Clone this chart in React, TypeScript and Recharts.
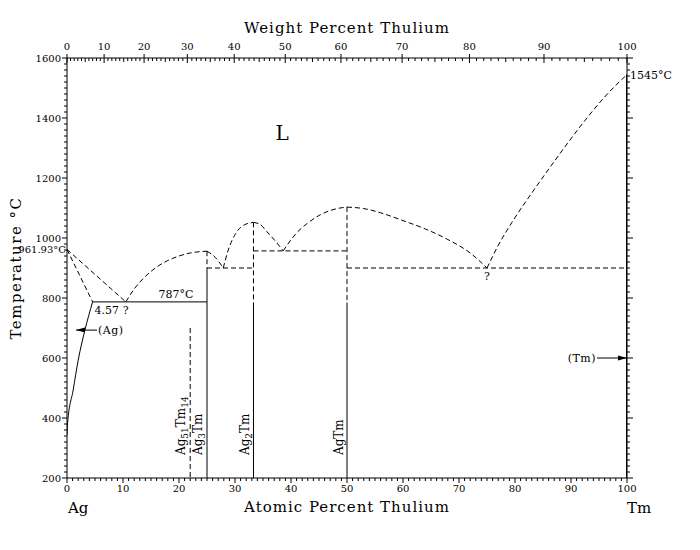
import React from "react";
import { LineChart, Line, XAxis, YAxis, ReferenceDot } from "recharts";

type Pt = { x: number; t: number };

// atomic masses, used only to place the weight-percent ticks on the top axis
const AG_MASS = 107.87;
const TM_MASS = 168.93;

const atomicLabels = [0, 10, 20, 30, 40, 50, 60, 70, 80, 90, 100];
const weightLabels = [0, 10, 20, 30, 40, 50, 60, 70, 80, 90, 100];
const tempLabels = [200, 400, 600, 800, 1000, 1200, 1400, 1600];

// liquidus / solidus pieces (at.% Tm, °C)
const liqAg: Pt[] = [
  { x: 0, t: 961.93 },
  { x: 10.5, t: 787 },
];
const solAg: Pt[] = [
  { x: 0, t: 961.93 },
  { x: 4.57, t: 787 },
];
const liqAg3Tm: Pt[] = [
  { x: 10.5, t: 787 },
  { x: 12, t: 830 },
  { x: 14, t: 872 },
  { x: 16, t: 903 },
  { x: 18, t: 925 },
  { x: 20, t: 940 },
  { x: 22, t: 950 },
  { x: 25, t: 956 },
];
const liqDip1: Pt[] = [
  { x: 25, t: 956 },
  { x: 26.5, t: 935 },
  { x: 27.9, t: 900 },
];
const liqAg2Tm: Pt[] = [
  { x: 27.9, t: 900 },
  { x: 28.8, t: 960 },
  { x: 30.3, t: 1020 },
  { x: 31.8, t: 1045 },
  { x: 33.3, t: 1052 },
];
const liqDip2: Pt[] = [
  { x: 33.3, t: 1052 },
  { x: 34.5, t: 1045 },
  { x: 35.7, t: 1021 },
  { x: 37.2, t: 990 },
  { x: 38.6, t: 957 },
];
const liqAgTm: Pt[] = [
  { x: 38.6, t: 957 },
  { x: 41, t: 1017 },
  { x: 43, t: 1050 },
  { x: 45.2, t: 1077 },
  { x: 48.2, t: 1098 },
  { x: 50, t: 1103 },
];
const liqDip3: Pt[] = [
  { x: 50, t: 1103 },
  { x: 53, t: 1098 },
  { x: 56, t: 1084 },
  { x: 60, t: 1058 },
  { x: 64, t: 1030 },
  { x: 68, t: 995 },
  { x: 72, t: 950 },
  { x: 75, t: 900 },
];
const liqTm: Pt[] = [
  { x: 75, t: 900 },
  { x: 77, t: 975 },
  { x: 80, t: 1068 },
  { x: 83, t: 1150 },
  { x: 87, t: 1255 },
  { x: 92, t: 1380 },
  { x: 96, t: 1470 },
  { x: 100, t: 1545 },
];

// dashed verticals and horizontals
const ag51Tm14Dash: Pt[] = [
  { x: 22, t: 700 },
  { x: 22, t: 200 },
];
const ag3TmDash: Pt[] = [
  { x: 25, t: 956 },
  { x: 25, t: 900 },
];
const ag2TmDash: Pt[] = [
  { x: 33.3, t: 1052 },
  { x: 33.3, t: 785 },
];
const agTmDash: Pt[] = [
  { x: 50, t: 1103 },
  { x: 50, t: 785 },
];
const h900a: Pt[] = [
  { x: 25, t: 900 },
  { x: 33.3, t: 900 },
];
const h957: Pt[] = [
  { x: 33.3, t: 957 },
  { x: 50, t: 957 },
];
const h900b: Pt[] = [
  { x: 50, t: 900 },
  { x: 100, t: 900 },
];

// solid lines
const eutectic787: Pt[] = [
  { x: 4.57, t: 787 },
  { x: 25, t: 787 },
];
const solvusAg: Pt[] = [
  { x: 0, t: 343 },
  { x: 0.1, t: 383 },
  { x: 1.1, t: 493 },
  { x: 2, t: 593 },
  { x: 3.2, t: 693 },
  { x: 4.57, t: 787 },
];
const ag3TmSolid: Pt[] = [
  { x: 25, t: 900 },
  { x: 25, t: 200 },
];
const ag2TmSolid: Pt[] = [
  { x: 33.3, t: 785 },
  { x: 33.3, t: 200 },
];
const agTmSolid: Pt[] = [
  { x: 50, t: 785 },
  { x: 50, t: 200 },
];
const tmSolid: Pt[] = [
  { x: 100, t: 1545 },
  { x: 100, t: 200 },
];

const dashed = [
  { d: liqAg, curve: false },
  { d: solAg, curve: false },
  { d: liqAg3Tm, curve: true },
  { d: liqDip1, curve: true },
  { d: liqAg2Tm, curve: true },
  { d: liqDip2, curve: true },
  { d: liqAgTm, curve: true },
  { d: liqDip3, curve: true },
  { d: liqTm, curve: true },
  { d: ag51Tm14Dash, curve: false },
  { d: ag3TmDash, curve: false },
  { d: ag2TmDash, curve: false },
  { d: agTmDash, curve: false },
  { d: h900a, curve: false },
  { d: h957, curve: false },
  { d: h900b, curve: false },
];
const solid = [
  { d: eutectic787, w: 1, curve: false },
  { d: solvusAg, w: 1, curve: true },
  { d: ag3TmSolid, w: 1, curve: false },
  { d: ag2TmSolid, w: 1, curve: false },
  { d: agTmSolid, w: 1, curve: false },
  { d: tmSolid, w: 2, curve: false },
];

const SERIF = "'DejaVu Serif', 'Liberation Serif', serif";

const wtToAt = (w: number) => {
  const a = w / TM_MASS;
  const b = (100 - w) / AG_MASS;
  return (a / (a + b)) * 100;
};
const atToWt = (x: number) => {
  const a = x * TM_MASS;
  const b = (100 - x) * AG_MASS;
  return (a / (a + b)) * 100;
};

const bottomTicks = Array.from({ length: 101 }, (_, i) => i);
const topTicks = Array.from({ length: 101 }, (_, i) => wtToAt(i));
const tempTicks = Array.from({ length: 71 }, (_, i) => 200 + i * 20);

const BottomTick = (p: any) => {
  const v = Math.round(p.payload.value);
  const major = atomicLabels.includes(v);
  return (
    <g>
      <line x1={p.x} x2={p.x} y1={p.y} y2={p.y + (major ? 5 : 3)} stroke="#000" />
      {major && (
        <text x={p.x} y={p.y + 14} textAnchor="middle" fontSize={10} fontFamily={SERIF}>
          {v}
        </text>
      )}
      {v === 0 && (
        <text x={p.x + 1} y={p.y + 35} fontSize={15} fontFamily={SERIF}>
          Ag
        </text>
      )}
      {v === 100 && (
        <text x={p.x} y={p.y + 35} fontSize={15} fontFamily={SERIF}>
          Tm
        </text>
      )}
    </g>
  );
};

const TopTick = (p: any) => {
  const w = Math.round(atToWt(p.payload.value));
  const major = weightLabels.includes(w);
  const mid = w % 5 === 0;
  return (
    <g>
      <line
        x1={p.x}
        x2={p.x}
        y1={major ? p.y - 4 : p.y}
        y2={p.y + (major ? 5 : mid ? 4 : 3)}
        stroke="#000"
      />
      {major && (
        <text x={p.x} y={p.y - 8} textAnchor="middle" fontSize={10} fontFamily={SERIF}>
          {w}
        </text>
      )}
    </g>
  );
};

const LeftTick = (p: any) => {
  const v = Math.round(p.payload.value);
  const major = tempLabels.includes(v);
  return (
    <g>
      <line x1={p.x} x2={p.x - (major ? 5 : 3)} y1={p.y} y2={p.y} stroke="#000" />
      {major && (
        <text x={p.x - 6} y={p.y + 4} textAnchor="end" fontSize={10} fontFamily={SERIF}>
          {v}
        </text>
      )}
    </g>
  );
};

const RightTick = (p: any) => {
  const v = Math.round(p.payload.value);
  const major = tempLabels.includes(v);
  return <line x1={p.x} x2={p.x + (major ? 6 : 3)} y1={p.y} y2={p.y} stroke="#000" />;
};

const note =
  (text: string, dx: number, dy: number, size = 11, anchor = "start", spacing = 0) =>
  (p: any) =>
    (
      <text
        x={p.cx + dx}
        y={p.cy + dy}
        textAnchor={anchor}
        fontSize={size}
        letterSpacing={spacing}
        fontFamily={SERIF}
      >
        {text}
      </text>
    );

const vertical =
  (parts: { s: string; sub?: boolean }[], dx: number, dy: number) => (p: any) => {
    const x = p.cx + dx;
    const y = p.cy + dy;
    return (
      <text x={x} y={y} transform={`rotate(-90 ${x} ${y})`} fontSize={12} fontFamily={SERIF}>
        {parts.map((pt, i) => (
          <tspan key={i} dy={pt.sub ? 3 : i > 0 && parts[i - 1].sub ? -3 : 0} fontSize={pt.sub ? 9 : 12}>
            {pt.s}
          </tspan>
        ))}
      </text>
    );
  };

const arrowLeft = (p: any) => {
  const y = p.cy;
  const x0 = p.cx + 9;
  return (
    <g>
      <line x1={x0} x2={x0 + 21} y1={y} y2={y} stroke="#000" />
      <polygon points={`${x0},${y} ${x0 + 9},${y - 2.5} ${x0 + 9},${y + 2.5}`} fill="#000" />
      <text x={x0 + 22} y={y + 4} fontSize={11} fontFamily={SERIF} letterSpacing={0.5}>
        (Ag)
      </text>
    </g>
  );
};

const arrowRight = (p: any) => {
  const y = p.cy;
  const x1 = p.cx;
  return (
    <g>
      <text x={x1 - 31} y={y + 4} textAnchor="end" fontSize={11} fontFamily={SERIF} letterSpacing={0.5}>
        (Tm)
      </text>
      <line x1={x1 - 30} x2={x1} y1={y} y2={y} stroke="#000" />
      <polygon points={`${x1},${y} ${x1 - 9},${y - 2.5} ${x1 - 9},${y + 2.5}`} fill="#000" />
    </g>
  );
};

const yTitle = (p: any) => {
  const x = p.cx - 46;
  const y = p.cy;
  return (
    <text
      x={x}
      y={y}
      transform={`rotate(-90 ${x} ${y})`}
      textAnchor="middle"
      fontSize={15}
      letterSpacing={1.5}
      fontFamily={SERIF}
    >
      Temperature °C
    </text>
  );
};

export default function App() {
  return (
    <div style={{ position: "absolute", left: 0, top: 0, background: "#fff" }}>
      <LineChart width={700} height={550} margin={{ top: 28, right: 63, bottom: 42, left: 17 }}>
        <XAxis
          dataKey="x"
          type="number"
          domain={[0, 100]}
          allowDataOverflow
          ticks={bottomTicks}
          interval={0}
          tick={<BottomTick />}
          tickLine={false}
          tickSize={0}
          tickMargin={0}
          height={30}
          axisLine={{ stroke: "#000" }}
        />
        <XAxis
          xAxisId="top"
          orientation="top"
          dataKey="x"
          type="number"
          domain={[0, 100]}
          allowDataOverflow
          ticks={topTicks}
          interval={0}
          tick={<TopTick />}
          tickLine={false}
          tickSize={0}
          tickMargin={0}
          height={30}
          axisLine={{ stroke: "#000" }}
        />
        <YAxis
          type="number"
          domain={[200, 1600]}
          allowDataOverflow
          ticks={tempTicks}
          interval={0}
          tick={<LeftTick />}
          tickLine={false}
          tickSize={0}
          tickMargin={0}
          width={50}
          axisLine={{ stroke: "#000" }}
        />
        <YAxis
          yAxisId="r"
          orientation="right"
          type="number"
          domain={[200, 1600]}
          allowDataOverflow
          ticks={tempTicks}
          interval={0}
          tick={<RightTick />}
          tickLine={false}
          tickSize={0}
          tickMargin={0}
          width={10}
          axisLine={{ stroke: "#000" }}
        />

        {dashed.map((s, i) => (
          <Line
            key={`d${i}`}
            data={s.d}
            dataKey="t"
            type={s.curve ? "monotone" : "linear"}
            stroke="#000"
            strokeWidth={1}
            strokeDasharray="5 3"
            dot={false}
            activeDot={false}
            isAnimationActive={false}
          />
        ))}
        {solid.map((s, i) => (
          <Line
            key={`s${i}`}
            data={s.d}
            dataKey="t"
            type={s.curve ? "monotone" : "linear"}
            stroke="#000"
            strokeWidth={s.w}
            dot={false}
            activeDot={false}
            isAnimationActive={false}
          />
        ))}

        <ReferenceDot x={50} y={1600} r={0} ifOverflow="visible" shape={note("Weight Percent Thulium", 0, -25, 15, "middle", 1)} />
        <ReferenceDot x={50} y={200} r={0} ifOverflow="visible" shape={note("Atomic Percent Thulium", 0, 34, 15, "middle", 1)} />
        <ReferenceDot x={0} y={900} r={0} ifOverflow="visible" shape={yTitle} />
        <ReferenceDot x={38.4} y={1350} r={0} ifOverflow="visible" shape={note("L", 0, 7, 20, "middle")} />
        <ReferenceDot x={0} y={961.93} r={0} ifOverflow="visible" shape={note("961.93°C", -1, 4, 10, "end")} />
        <ReferenceDot x={25} y={787} r={0} ifOverflow="visible" shape={note("787°C", -31, -4, 11, "middle")} />
        <ReferenceDot x={4.57} y={787} r={0} ifOverflow="visible" shape={note("4.57", 2, 12, 11)} />
        <ReferenceDot x={10.5} y={787} r={0} ifOverflow="visible" shape={note("?", 0, 12, 11, "middle")} />
        <ReferenceDot x={75} y={900} r={0} ifOverflow="visible" shape={note("?", 0, 12, 11, "middle")} />
        <ReferenceDot x={100} y={1545} r={0} ifOverflow="visible" shape={note("1545°C", 3, 4, 11)} />
        <ReferenceDot x={0} y={693} r={0} ifOverflow="visible" shape={arrowLeft} />
        <ReferenceDot x={100} y={600} r={0} ifOverflow="visible" shape={arrowRight} />
        <ReferenceDot
          x={22}
          y={200}
          r={0}
          ifOverflow="visible"
          shape={vertical([{ s: "Ag" }, { s: "51", sub: true }, { s: "Tm" }, { s: "14", sub: true }], -5, -23)}
        />
        <ReferenceDot
          x={25}
          y={200}
          r={0}
          ifOverflow="visible"
          shape={vertical([{ s: "Ag" }, { s: "3", sub: true }, { s: "Tm" }], -5, -23)}
        />
        <ReferenceDot
          x={33.3}
          y={200}
          r={0}
          ifOverflow="visible"
          shape={vertical([{ s: "Ag" }, { s: "2", sub: true }, { s: "Tm" }], -4, -23)}
        />
        <ReferenceDot
          x={50}
          y={200}
          r={0}
          ifOverflow="visible"
          shape={vertical([{ s: "AgTm" }], -4, -23)}
        />
      </LineChart>
    </div>
  );
}
